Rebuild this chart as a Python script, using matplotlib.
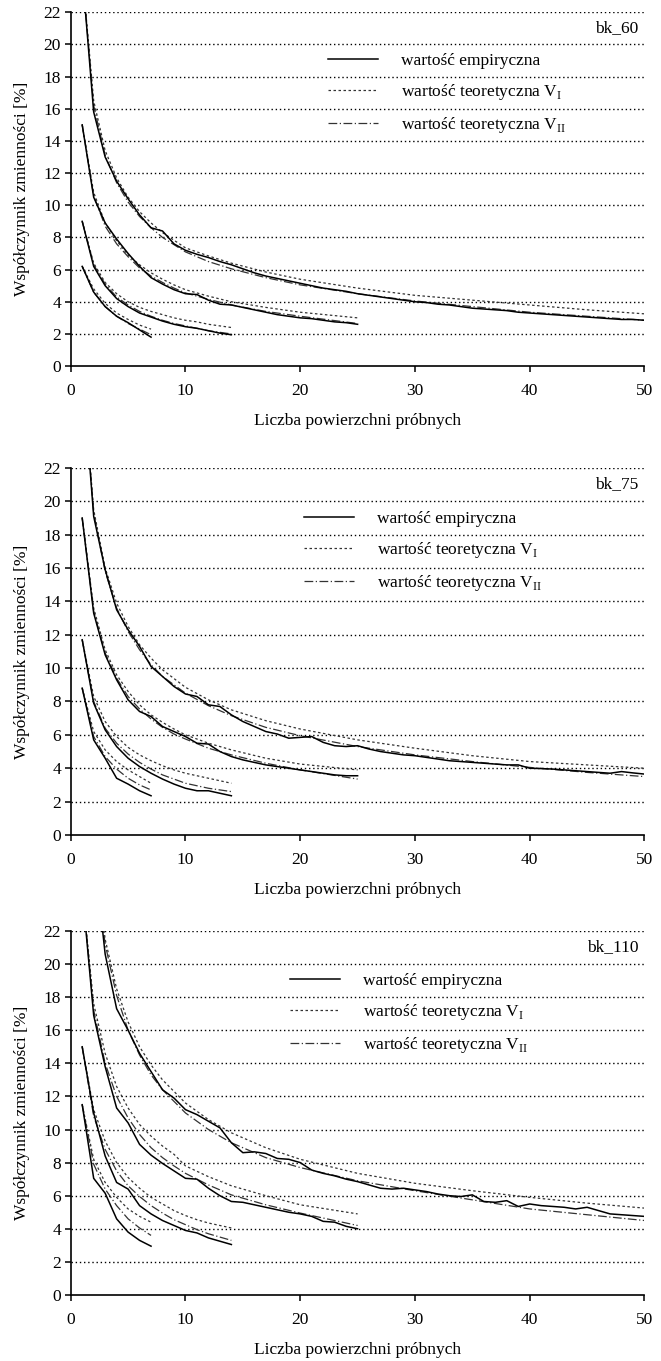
import matplotlib
matplotlib.use('Agg')
import matplotlib.pyplot as plt
from matplotlib.lines import Line2D

plt.rcParams['font.family'] = ['Liberation Serif', 'DejaVu Serif']

# x positions
x7 = list(range(1, 8))
x14 = list(range(1, 15))
x25 = list(range(1, 26))
x50 = list(range(1, 51))
x25_t = [1, 2, 3, 4, 5, 6, 7, 8, 9, 10, 12, 14, 17, 20, 25]
x50_t = [1, 2, 3, 4, 5, 6, 7, 8, 10, 12, 14, 17, 20, 25, 30, 35, 40, 45, 50]

panel_names = ['bk_60', 'bk_75', 'bk_110']
legend_labels = ['wartość empiryczna', 'wartość teoretyczna V$_\\mathregular{I}$',
                 'wartość teoretyczna V$_\\mathregular{II}$']

# ---- bk_60 ----
emp50_60 = [24.5, 15.8, 13.0, 11.5, 10.4, 9.4, 8.6, 8.4, 7.6, 7.2,
            6.95, 6.75, 6.5, 6.3, 6.05, 5.8, 5.6, 5.45, 5.3, 5.15,
            5.0, 4.85, 4.75, 4.65, 4.5, 4.4, 4.3, 4.2, 4.1, 4.0,
            3.95, 3.85, 3.8, 3.7, 3.6, 3.55, 3.5, 3.45, 3.35, 3.3,
            3.25, 3.2, 3.15, 3.1, 3.05, 3.0, 2.95, 2.9, 2.9, 2.85]
v1_50_60 = [24.5, 16.5, 13.4, 11.7, 10.5, 9.6, 8.9, 8.3, 7.35, 6.85,
            6.4, 5.85, 5.4, 4.85, 4.4, 4.1, 3.8, 3.5, 3.25]
v2_50_60 = [24.5, 16.2, 13.1, 11.4, 10.2, 9.3, 8.6, 8.0, 7.1, 6.5,
            6.05, 5.5, 5.05, 4.5, 4.05, 3.7, 3.35, 3.1, 2.85]
emp25_60 = [15.0, 10.5, 8.9, 7.9, 7.0, 6.2, 5.5, 5.1, 4.75, 4.5,
            4.45, 4.1, 3.85, 3.8, 3.65, 3.5, 3.35, 3.2, 3.1, 3.0,
            2.95, 2.85, 2.75, 2.7, 2.6]
v1_25_60 = [15.0, 10.8, 8.9, 7.8, 6.9, 6.3, 5.8, 5.4, 5.05, 4.75, 4.35, 4.0, 3.65, 3.35, 3.0]
v2_25_60 = [15.0, 10.6, 8.7, 7.6, 6.8, 6.1, 5.6, 5.2, 4.85, 4.55, 4.15, 3.8, 3.4, 3.1, 2.65]
emp14_60 = [9.0, 6.2, 5.0, 4.2, 3.7, 3.3, 3.05, 2.8, 2.6, 2.45, 2.35, 2.2, 2.05, 1.95]
v1_14_60 = [9.0, 6.4, 5.2, 4.5, 4.0, 3.65, 3.4, 3.2, 3.0, 2.85, 2.75, 2.6, 2.5, 2.4]
v2_14_60 = [9.0, 6.3, 5.1, 4.3, 3.8, 3.4, 3.1, 2.85, 2.65, 2.5, 2.35, 2.2, 2.1, 2.0]
emp7_60 = [6.2, 4.6, 3.7, 3.1, 2.7, 2.25, 1.8]
v1_7_60 = [6.2, 4.8, 3.9, 3.3, 2.9, 2.55, 2.3]
v2_7_60 = [6.2, 4.6, 3.7, 3.1, 2.65, 2.3, 1.95]

# ---- bk_75 ----
emp50_75 = [28.0, 19.1, 15.9, 13.5, 12.3, 11.3, 10.1, 9.5, 8.9, 8.45,
            8.3, 7.8, 7.7, 7.2, 6.8, 6.5, 6.2, 6.05, 5.8, 5.85,
            5.9, 5.55, 5.35, 5.3, 5.35, 5.15, 5.0, 4.9, 4.8, 4.75,
            4.65, 4.55, 4.45, 4.4, 4.35, 4.3, 4.25, 4.2, 4.2, 4.0,
            3.98, 3.95, 3.9, 3.85, 3.8, 3.75, 3.7, 3.8, 3.72, 3.65]
v1_50_75 = [28.0, 19.5, 16.0, 13.9, 12.5, 11.4, 10.6, 9.9, 8.85, 8.1,
            7.5, 6.85, 6.35, 5.7, 5.2, 4.75, 4.4, 4.2, 4.0]
v2_50_75 = [28.0, 19.3, 15.8, 13.6, 12.2, 11.1, 10.2, 9.5, 8.5, 7.75,
            7.15, 6.45, 5.95, 5.3, 4.8, 4.4, 4.05, 3.75, 3.5]
emp25_75 = [19.0, 13.3, 10.8, 9.3, 8.1, 7.4, 7.1, 6.5, 6.2, 5.9,
            5.5, 5.45, 5.0, 4.7, 4.5, 4.35, 4.2, 4.1, 4.0, 3.9,
            3.8, 3.7, 3.6, 3.55, 3.55]
v1_25_75 = [19.0, 13.6, 11.1, 9.6, 8.6, 7.8, 7.2, 6.75, 6.35, 6.0, 5.5, 5.1, 4.6, 4.25, 3.9]
v2_25_75 = [19.0, 13.4, 10.9, 9.4, 8.3, 7.55, 6.95, 6.45, 6.05, 5.75, 5.2, 4.8, 4.3, 3.9, 3.35]
emp14_75 = [11.7, 7.9, 6.3, 5.3, 4.6, 4.1, 3.7, 3.35, 3.05, 2.8, 2.65, 2.65, 2.5, 2.35]
v1_14_75 = [11.7, 8.3, 6.8, 5.9, 5.25, 4.8, 4.45, 4.15, 3.9, 3.7, 3.55, 3.4, 3.25, 3.1]
v2_14_75 = [11.7, 8.0, 6.4, 5.5, 4.85, 4.35, 3.95, 3.6, 3.35, 3.1, 2.95, 2.8, 2.7, 2.6]
emp7_75 = [8.8, 5.7, 4.6, 3.4, 3.05, 2.65, 2.35]
v1_7_75 = [8.8, 6.2, 5.1, 4.4, 3.9, 3.5, 3.1]
v2_7_75 = [8.8, 5.9, 4.7, 3.95, 3.4, 3.0, 2.7]

# ---- bk_110 ----
emp50_110 = [38.0, 27.0, 20.6, 17.3, 16.0, 14.6, 13.5, 12.4, 11.9, 11.2,
             10.9, 10.5, 10.1, 9.2, 8.6, 8.65, 8.55, 8.25, 8.2, 8.0,
             7.55, 7.35, 7.2, 7.0, 6.85, 6.65, 6.45, 6.4, 6.45, 6.35,
             6.25, 6.1, 6.0, 5.95, 6.05, 5.65, 5.6, 5.7, 5.35, 5.5,
             5.4, 5.35, 5.3, 5.2, 5.3, 5.1, 4.9, 4.85, 4.8, 4.75]
v1_50_110 = [38.0, 27.0, 21.5, 18.5, 16.5, 15.0, 13.9, 13.0, 11.6, 10.6,
             9.8, 8.9, 8.2, 7.35, 6.75, 6.3, 5.9, 5.55, 5.25]
v2_50_110 = [38.0, 26.8, 21.2, 18.1, 16.0, 14.5, 13.3, 12.4, 11.0, 10.0,
             9.2, 8.3, 7.7, 6.9, 6.3, 5.75, 5.2, 4.85, 4.5]
emp25_110 = [24.5, 16.9, 13.8, 11.3, 10.4, 9.1, 8.45, 7.95, 7.5, 7.05,
             7.0, 6.45, 6.0, 5.65, 5.6, 5.45, 5.3, 5.15, 5.0, 4.9,
             4.75, 4.45, 4.4, 4.15, 4.0]
v1_25_110 = [24.5, 17.6, 14.6, 12.6, 11.3, 10.3, 9.6, 9.0, 8.5, 7.8, 7.15, 6.6, 6.0, 5.45, 4.9]
v2_25_110 = [24.5, 17.2, 14.0, 12.0, 10.7, 9.7, 8.9, 8.3, 7.8, 7.35, 6.65, 6.05, 5.45, 4.95, 4.2]
emp14_110 = [15.0, 11.0, 8.4, 6.8, 6.4, 5.4, 4.9, 4.5, 4.2, 3.9, 3.75, 3.45, 3.25, 3.05]
v1_14_110 = [15.0, 11.2, 9.3, 8.0, 7.1, 6.45, 5.9, 5.5, 5.1, 4.8, 4.55, 4.35, 4.2, 4.05]
v2_14_110 = [15.0, 10.8, 8.8, 7.5, 6.6, 5.95, 5.4, 4.95, 4.55, 4.25, 3.95, 3.7, 3.5, 3.3]
emp7_110 = [11.5, 7.05, 6.15, 4.6, 3.8, 3.3, 2.95]
v1_7_110 = [11.5, 8.2, 6.8, 5.9, 5.2, 4.75, 4.4]
v2_7_110 = [11.5, 7.9, 6.4, 5.4, 4.6, 4.05, 3.6]

panels = [
    [(x50, emp50_60, x50_t, v1_50_60, v2_50_60), (x25, emp25_60, x25_t, v1_25_60, v2_25_60),
     (x14, emp14_60, x14, v1_14_60, v2_14_60), (x7, emp7_60, x7, v1_7_60, v2_7_60)],
    [(x50, emp50_75, x50_t, v1_50_75, v2_50_75), (x25, emp25_75, x25_t, v1_25_75, v2_25_75),
     (x14, emp14_75, x14, v1_14_75, v2_14_75), (x7, emp7_75, x7, v1_7_75, v2_7_75)],
    [(x50, emp50_110, x50_t, v1_50_110, v2_50_110), (x25, emp25_110, x25_t, v1_25_110, v2_25_110),
     (x14, emp14_110, x14, v1_14_110, v2_14_110), (x7, emp7_110, x7, v1_7_110, v2_7_110)],
]

# axes boxes in figure fractions (left, bottom, width, height)
boxes = [(0.107, 0.731, 0.868, 0.260),
         (0.107, 0.3865, 0.868, 0.2697),
         (0.107, 0.0485, 0.868, 0.2675)]
legend_x = [22.4, 20.3, 19.1]

style_emp = dict(color='black', lw=1.1, ls='-')
style_v1 = dict(color='#333333', lw=0.9, ls=(0, (2, 2)))
style_v2 = dict(color='#333333', lw=0.9, ls=(0, (7, 2, 1, 2)))

fig = plt.figure(figsize=(6.61, 13.61), dpi=100)

for i, groups in enumerate(panels):
    ax = fig.add_axes(boxes[i])
    for xe, emp, xt, v1, v2 in groups:
        ax.plot(xt, v1, **style_v1)
        ax.plot(xt, v2, **style_v2)
        ax.plot(xe, emp, **style_emp)

    ax.set_xlim(0, 50)
    ax.set_ylim(0, 22)
    ax.set_xticks(range(0, 51, 10))
    ax.set_yticks(range(0, 23, 2))
    for yv in range(2, 23, 2):
        ax.axhline(yv, color='black', lw=1.0, ls=(0, (1, 2)), zorder=0)
    for s in ['top', 'right']:
        ax.spines[s].set_visible(False)
    for s in ['left', 'bottom']:
        ax.spines[s].set_linewidth(1.2)
    ax.tick_params(axis='both', direction='out', length=4, width=1.1, labelsize=12.5)
    ax.tick_params(axis='x', pad=8)
    ax.tick_params(axis='y', pad=3)
    ax.set_xlabel('Liczba powierzchni próbnych', fontsize=12.5, labelpad=10)
    ax.set_ylabel('Współczynnik zmienności [%]', fontsize=12.5, labelpad=10)

    ax.text(49.5, 21.0, panel_names[i], ha='right', va='center', fontsize=12.5)

    handles = [Line2D([], [], **style_emp), Line2D([], [], **style_v1), Line2D([], [], **style_v2)]
    ax.legend(handles, legend_labels, loc='upper left', bbox_to_anchor=(legend_x[i], 19.45),
              bbox_transform=ax.transData, frameon=False, fontsize=12.5,
              handlelength=2.9, handletextpad=1.3, labelspacing=0.75, borderpad=0,
              borderaxespad=0)

fig.savefig('out.png', dpi=100)
